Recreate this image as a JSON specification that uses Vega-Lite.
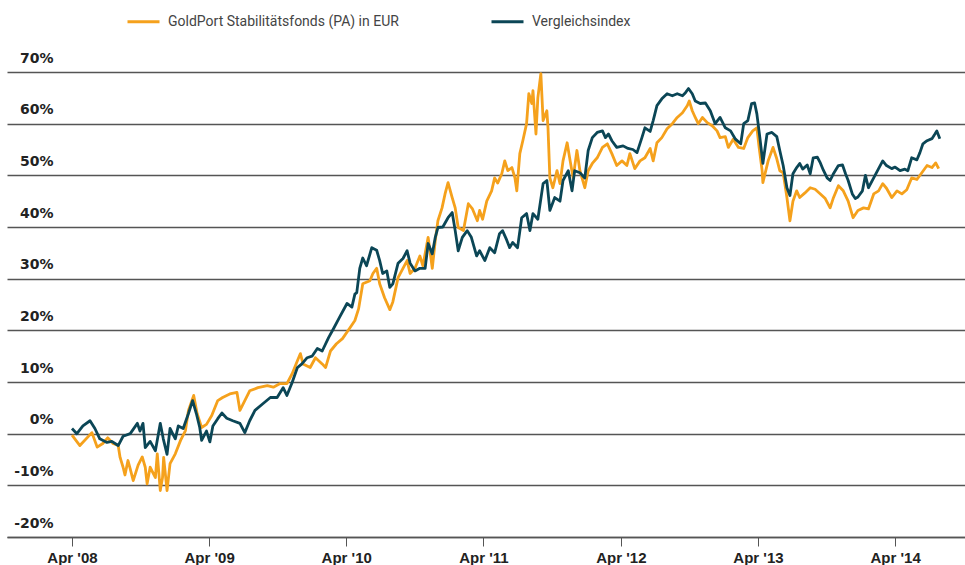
{
  "$schema": "https://vega.github.io/schema/vega-lite/v6.json",
  "width": 958,
  "height": 465,
  "autosize": {"type": "none"},
  "padding": {"left": 7, "top": 72, "right": 0, "bottom": 28},
  "background": "white",
  "config": {"view": {"stroke": null}, "font": "Liberation Sans"},
  "datasets": {
    "gold": [
      {"d":"2008-04-01","v":-0.3},{"d":"2008-04-22","v":-2.3},{"d":"2008-05-24","v":0.2},{"d":"2008-06-07","v":-2.6},{"d":"2008-06-22","v":-1.9},{"d":"2008-07-05","v":-0.8},{"d":"2008-07-19","v":-1.9},{"d":"2008-08-02","v":-2.3},{"d":"2008-08-07","v":-4.6},{"d":"2008-08-15","v":-6.5},{"d":"2008-08-20","v":-8.0},{"d":"2008-08-28","v":-5.2},{"d":"2008-09-03","v":-6.8},{"d":"2008-09-11","v":-9.1},{"d":"2008-09-24","v":-6.1},{"d":"2008-10-05","v":-4.5},{"d":"2008-10-13","v":-6.5},{"d":"2008-10-18","v":-9.7},{"d":"2008-10-26","v":-6.5},{"d":"2008-11-09","v":-8.5},{"d":"2008-11-14","v":-3.9},{"d":"2008-11-22","v":-11.0},{"d":"2008-11-28","v":-8.5},{"d":"2008-12-01","v":-4.6},{"d":"2008-12-10","v":-11.0},{"d":"2008-12-18","v":-5.8},
      {"d":"2009-01-01","v":-3.9},{"d":"2009-01-15","v":-1.3},{"d":"2009-01-28","v":0.6},{"d":"2009-02-05","v":4.5},{"d":"2009-02-19","v":7.4},{"d":"2009-02-28","v":3.9},{"d":"2009-03-12","v":1.2},{"d":"2009-03-25","v":1.8},{"d":"2009-04-08","v":3.5},{"d":"2009-04-24","v":6.4},{"d":"2009-05-07","v":7.0},{"d":"2009-05-26","v":7.7},{"d":"2009-06-14","v":8.0},{"d":"2009-06-22","v":4.5},{"d":"2009-07-05","v":6.4},{"d":"2009-07-18","v":8.3},{"d":"2009-08-09","v":8.9},{"d":"2009-09-03","v":9.3},{"d":"2009-09-19","v":9.0},{"d":"2009-10-07","v":9.7},{"d":"2009-10-25","v":9.7},{"d":"2009-11-08","v":11.6},{"d":"2009-11-22","v":14.1},{"d":"2009-11-30","v":15.5},{"d":"2009-12-07","v":13.5},{"d":"2009-12-26","v":12.8},
      {"d":"2010-01-09","v":14.7},{"d":"2010-01-27","v":13.5},{"d":"2010-02-05","v":12.8},{"d":"2010-02-18","v":16.0},{"d":"2010-03-06","v":17.4},{"d":"2010-03-22","v":18.4},{"d":"2010-04-11","v":20.5},{"d":"2010-04-24","v":21.9},{"d":"2010-05-04","v":24.2},{"d":"2010-05-15","v":29.0},{"d":"2010-06-03","v":29.6},{"d":"2010-06-11","v":31.0},{"d":"2010-06-21","v":32.0},{"d":"2010-06-29","v":29.0},{"d":"2010-07-12","v":26.3},{"d":"2010-07-26","v":24.0},{"d":"2010-08-03","v":25.5},{"d":"2010-08-17","v":30.2},{"d":"2010-08-30","v":32.0},{"d":"2010-09-10","v":33.5},{"d":"2010-09-18","v":31.0},{"d":"2010-10-01","v":32.0},{"d":"2010-10-14","v":34.4},{"d":"2010-10-22","v":32.5},{"d":"2010-11-05","v":38.0},{"d":"2010-11-16","v":32.0},{"d":"2010-11-24","v":37.4},{"d":"2010-12-01","v":41.2},{"d":"2010-12-12","v":43.7},{"d":"2010-12-20","v":46.4},{"d":"2010-12-28","v":48.6},
      {"d":"2011-01-08","v":45.7},{"d":"2011-01-16","v":43.7},{"d":"2011-01-24","v":39.9},{"d":"2011-02-07","v":39.3},{"d":"2011-02-20","v":44.5},{"d":"2011-03-03","v":43.5},{"d":"2011-03-16","v":41.2},{"d":"2011-03-22","v":43.2},{"d":"2011-03-30","v":41.5},{"d":"2011-04-10","v":45.0},{"d":"2011-04-23","v":47.0},{"d":"2011-05-01","v":49.5},{"d":"2011-05-09","v":48.5},{"d":"2011-05-20","v":50.3},{"d":"2011-05-28","v":52.8},{"d":"2011-06-05","v":50.9},{"d":"2011-06-16","v":51.5},{"d":"2011-06-24","v":49.5},{"d":"2011-06-29","v":47.0},{"d":"2011-07-07","v":54.2},{"d":"2011-07-15","v":56.7},{"d":"2011-07-25","v":60.0},{"d":"2011-07-31","v":65.8},{"d":"2011-08-08","v":63.9},{"d":"2011-08-11","v":66.4},{"d":"2011-08-19","v":58.0},{"d":"2011-08-24","v":65.0},{"d":"2011-09-01","v":69.7},{"d":"2011-09-07","v":60.6},{"d":"2011-09-17","v":62.5},{"d":"2011-09-20","v":59.2},{"d":"2011-09-25","v":49.5},{"d":"2011-10-03","v":47.6},{"d":"2011-10-14","v":50.9},{"d":"2011-10-22","v":48.4},{"d":"2011-10-30","v":52.8},{"d":"2011-11-10","v":56.3},{"d":"2011-11-18","v":52.8},{"d":"2011-11-26","v":49.5},{"d":"2011-12-06","v":54.8},{"d":"2011-12-14","v":50.9},{"d":"2011-12-27","v":47.6},
      {"d":"2012-01-05","v":50.9},{"d":"2012-01-16","v":52.3},{"d":"2012-01-29","v":53.4},{"d":"2012-02-12","v":55.4},{"d":"2012-02-25","v":56.1},{"d":"2012-03-08","v":54.2},{"d":"2012-03-21","v":51.9},{"d":"2012-04-04","v":52.8},{"d":"2012-04-17","v":51.9},{"d":"2012-04-25","v":54.2},{"d":"2012-05-08","v":51.3},{"d":"2012-05-22","v":52.8},{"d":"2012-06-04","v":53.4},{"d":"2012-06-18","v":55.2},{"d":"2012-06-26","v":52.8},{"d":"2012-07-06","v":56.3},{"d":"2012-07-19","v":57.3},{"d":"2012-08-02","v":59.0},{"d":"2012-08-16","v":60.0},{"d":"2012-08-29","v":61.2},{"d":"2012-09-12","v":62.1},{"d":"2012-09-25","v":63.5},{"d":"2012-09-30","v":64.4},{"d":"2012-10-08","v":62.5},{"d":"2012-10-16","v":61.2},{"d":"2012-10-24","v":60.0},{"d":"2012-11-04","v":61.2},{"d":"2012-11-17","v":60.2},{"d":"2012-11-30","v":59.6},{"d":"2012-12-13","v":58.6},{"d":"2012-12-21","v":57.3},
      {"d":"2013-01-04","v":57.5},{"d":"2013-01-12","v":55.4},{"d":"2013-01-25","v":57.0},{"d":"2013-02-08","v":55.4},{"d":"2013-02-22","v":55.2},{"d":"2013-03-05","v":57.3},{"d":"2013-03-18","v":58.6},{"d":"2013-03-29","v":59.2},{"d":"2013-04-04","v":55.4},{"d":"2013-04-12","v":50.9},{"d":"2013-04-14","v":48.6},{"d":"2013-04-28","v":52.8},{"d":"2013-05-11","v":55.4},{"d":"2013-05-21","v":53.2},{"d":"2013-05-29","v":50.9},{"d":"2013-06-07","v":50.5},{"d":"2013-06-17","v":45.7},{"d":"2013-06-25","v":41.2},{"d":"2013-07-03","v":45.0},{"d":"2013-07-13","v":47.0},{"d":"2013-07-21","v":45.7},{"d":"2013-08-04","v":46.6},{"d":"2013-08-18","v":47.6},{"d":"2013-08-31","v":47.3},{"d":"2013-09-14","v":46.4},{"d":"2013-09-27","v":45.5},{"d":"2013-10-10","v":43.7},{"d":"2013-10-18","v":45.5},{"d":"2013-11-01","v":48.0},{"d":"2013-11-14","v":47.0},{"d":"2013-11-27","v":45.0},{"d":"2013-12-10","v":41.8},{"d":"2013-12-23","v":43.2},
      {"d":"2014-01-07","v":43.7},{"d":"2014-01-20","v":43.5},{"d":"2014-02-03","v":46.4},{"d":"2014-02-16","v":47.0},{"d":"2014-02-27","v":48.4},{"d":"2014-03-09","v":47.5},{"d":"2014-03-23","v":45.7},{"d":"2014-04-06","v":47.0},{"d":"2014-04-19","v":46.4},{"d":"2014-05-02","v":47.2},{"d":"2014-05-15","v":49.5},{"d":"2014-05-29","v":49.2},{"d":"2014-06-11","v":50.5},{"d":"2014-06-25","v":51.9},{"d":"2014-07-08","v":51.5},{"d":"2014-07-18","v":52.4},{"d":"2014-07-26","v":51.3}
    ],
    "idx": [
      {"d":"2008-04-01","v":1.0},{"d":"2008-04-14","v":0.0},{"d":"2008-04-30","v":1.5},{"d":"2008-05-19","v":2.5},{"d":"2008-06-01","v":1.0},{"d":"2008-06-14","v":-1.0},{"d":"2008-07-03","v":-1.7},{"d":"2008-07-16","v":-1.5},{"d":"2008-08-02","v":-2.3},{"d":"2008-08-15","v":-0.5},{"d":"2008-09-03","v":0.0},{"d":"2008-09-22","v":2.0},{"d":"2008-09-29","v":0.5},{"d":"2008-10-07","v":2.0},{"d":"2008-10-13","v":-2.7},{"d":"2008-10-26","v":-1.5},{"d":"2008-11-09","v":-3.3},{"d":"2008-11-22","v":2.0},{"d":"2008-11-30","v":-1.0},{"d":"2008-12-10","v":-4.0},{"d":"2008-12-18","v":1.0},
      {"d":"2009-01-01","v":-1.0},{"d":"2009-01-09","v":1.5},{"d":"2009-01-22","v":1.0},{"d":"2009-02-05","v":3.9},{"d":"2009-02-16","v":6.4},{"d":"2009-02-26","v":3.9},{"d":"2009-03-07","v":1.2},{"d":"2009-03-12","v":-1.3},{"d":"2009-03-25","v":0.5},{"d":"2009-04-03","v":-1.6},{"d":"2009-04-11","v":1.5},{"d":"2009-04-24","v":2.9},{"d":"2009-05-05","v":4.0},{"d":"2009-05-18","v":3.0},{"d":"2009-06-03","v":2.5},{"d":"2009-06-22","v":2.0},{"d":"2009-07-05","v":0.2},{"d":"2009-07-18","v":2.5},{"d":"2009-08-01","v":4.5},{"d":"2009-08-22","v":5.8},{"d":"2009-09-11","v":7.0},{"d":"2009-09-29","v":7.0},{"d":"2009-10-15","v":8.9},{"d":"2009-10-25","v":7.4},{"d":"2009-11-08","v":9.9},{"d":"2009-11-22","v":12.8},{"d":"2009-12-04","v":13.5},{"d":"2009-12-18","v":14.7},{"d":"2009-12-31","v":15.0},
      {"d":"2010-01-14","v":16.5},{"d":"2010-01-27","v":16.0},{"d":"2010-02-13","v":18.6},{"d":"2010-02-26","v":20.3},{"d":"2010-03-14","v":22.5},{"d":"2010-04-03","v":25.2},{"d":"2010-04-16","v":24.5},{"d":"2010-04-24","v":27.0},{"d":"2010-04-29","v":27.3},{"d":"2010-05-07","v":32.0},{"d":"2010-05-15","v":34.0},{"d":"2010-05-25","v":32.5},{"d":"2010-06-08","v":36.0},{"d":"2010-06-21","v":35.5},{"d":"2010-06-29","v":33.5},{"d":"2010-07-07","v":31.0},{"d":"2010-07-18","v":31.5},{"d":"2010-07-26","v":28.3},{"d":"2010-08-03","v":29.0},{"d":"2010-08-17","v":33.0},{"d":"2010-08-30","v":33.9},{"d":"2010-09-10","v":35.4},{"d":"2010-09-18","v":33.0},{"d":"2010-10-01","v":31.5},{"d":"2010-10-14","v":32.0},{"d":"2010-10-28","v":32.0},{"d":"2010-11-05","v":36.8},{"d":"2010-11-16","v":34.8},{"d":"2010-11-24","v":38.0},{"d":"2010-12-01","v":39.9},{"d":"2010-12-14","v":40.0},{"d":"2010-12-28","v":41.8},
      {"d":"2011-01-08","v":42.8},{"d":"2011-01-16","v":39.3},{"d":"2011-01-24","v":35.4},{"d":"2011-02-04","v":38.0},{"d":"2011-02-17","v":39.3},{"d":"2011-02-28","v":38.0},{"d":"2011-03-14","v":34.4},{"d":"2011-03-22","v":35.4},{"d":"2011-04-05","v":33.5},{"d":"2011-04-18","v":36.0},{"d":"2011-05-01","v":35.0},{"d":"2011-05-14","v":38.7},{"d":"2011-05-22","v":39.3},{"d":"2011-06-02","v":37.5},{"d":"2011-06-10","v":36.0},{"d":"2011-06-18","v":37.0},{"d":"2011-07-01","v":36.0},{"d":"2011-07-12","v":41.8},{"d":"2011-07-25","v":42.6},{"d":"2011-08-03","v":39.3},{"d":"2011-08-11","v":42.6},{"d":"2011-08-24","v":41.5},{"d":"2011-09-07","v":48.4},{"d":"2011-09-17","v":49.0},{"d":"2011-09-25","v":43.2},{"d":"2011-10-08","v":45.7},{"d":"2011-10-22","v":45.0},{"d":"2011-10-30","v":49.0},{"d":"2011-11-13","v":50.9},{"d":"2011-11-23","v":47.0},{"d":"2011-11-30","v":50.9},{"d":"2011-12-14","v":50.5},{"d":"2011-12-27","v":49.5},
      {"d":"2012-01-05","v":54.8},{"d":"2012-01-16","v":57.3},{"d":"2012-01-29","v":58.3},{"d":"2012-02-12","v":58.6},{"d":"2012-02-20","v":57.3},{"d":"2012-02-28","v":58.0},{"d":"2012-03-08","v":56.7},{"d":"2012-03-21","v":55.4},{"d":"2012-04-07","v":55.7},{"d":"2012-04-20","v":55.2},{"d":"2012-05-03","v":55.0},{"d":"2012-05-14","v":54.4},{"d":"2012-05-27","v":57.3},{"d":"2012-06-04","v":59.2},{"d":"2012-06-18","v":58.5},{"d":"2012-06-26","v":60.6},{"d":"2012-07-06","v":63.5},{"d":"2012-07-19","v":64.8},{"d":"2012-08-02","v":65.8},{"d":"2012-08-16","v":65.4},{"d":"2012-08-29","v":65.8},{"d":"2012-09-12","v":65.4},{"d":"2012-09-20","v":66.0},{"d":"2012-09-28","v":66.8},{"d":"2012-10-08","v":65.8},{"d":"2012-10-16","v":64.4},{"d":"2012-10-29","v":63.9},{"d":"2012-11-12","v":64.0},{"d":"2012-11-25","v":62.5},{"d":"2012-12-08","v":60.0},{"d":"2012-12-21","v":61.2},
      {"d":"2013-01-04","v":59.2},{"d":"2013-01-18","v":58.6},{"d":"2013-01-31","v":57.0},{"d":"2013-02-14","v":56.1},{"d":"2013-02-22","v":60.0},{"d":"2013-03-05","v":60.6},{"d":"2013-03-15","v":63.9},{"d":"2013-03-23","v":64.0},{"d":"2013-03-29","v":61.9},{"d":"2013-04-06","v":57.3},{"d":"2013-04-14","v":52.3},{"d":"2013-04-25","v":58.0},{"d":"2013-05-08","v":58.3},{"d":"2013-05-21","v":57.5},{"d":"2013-05-29","v":54.8},{"d":"2013-06-07","v":51.9},{"d":"2013-06-17","v":47.6},{"d":"2013-06-25","v":46.1},{"d":"2013-07-03","v":50.3},{"d":"2013-07-13","v":51.5},{"d":"2013-07-21","v":52.3},{"d":"2013-07-29","v":51.2},{"d":"2013-08-10","v":52.0},{"d":"2013-08-18","v":50.3},{"d":"2013-08-26","v":53.4},{"d":"2013-09-06","v":53.5},{"d":"2013-09-14","v":52.4},{"d":"2013-09-22","v":51.0},{"d":"2013-10-02","v":49.5},{"d":"2013-10-10","v":49.0},{"d":"2013-10-18","v":50.2},{"d":"2013-11-01","v":51.9},{"d":"2013-11-12","v":52.0},{"d":"2013-11-20","v":50.3},{"d":"2013-11-27","v":49.0},{"d":"2013-12-08","v":46.4},{"d":"2013-12-16","v":45.5},{"d":"2013-12-23","v":45.8},
      {"d":"2014-01-04","v":47.0},{"d":"2014-01-12","v":50.0},{"d":"2014-01-20","v":47.6},{"d":"2014-02-03","v":49.5},{"d":"2014-02-16","v":51.3},{"d":"2014-02-27","v":52.8},{"d":"2014-03-09","v":51.9},{"d":"2014-03-23","v":51.3},{"d":"2014-04-01","v":51.6},{"d":"2014-04-14","v":50.9},{"d":"2014-04-27","v":51.2},{"d":"2014-05-05","v":50.9},{"d":"2014-05-15","v":53.4},{"d":"2014-05-29","v":53.0},{"d":"2014-06-06","v":54.4},{"d":"2014-06-14","v":56.1},{"d":"2014-06-25","v":56.7},{"d":"2014-07-08","v":57.1},{"d":"2014-07-16","v":58.0},{"d":"2014-07-21","v":58.6},{"d":"2014-07-29","v":57.1}
    ]
  },
  "encoding": {
    "x": {
      "field": "d",
      "type": "temporal",
      "scale": {"type": "utc", "domain": [{"year": 2007, "month": 10, "date": 11, "utc": true}, {"year": 2014, "month": 10, "date": 4, "utc": true}]},
      "axis": {
        "title": null,
        "values": [
          {"year": 2008, "month": 4, "date": 1, "utc": true},
          {"year": 2009, "month": 4, "date": 1, "utc": true},
          {"year": 2010, "month": 4, "date": 1, "utc": true},
          {"year": 2011, "month": 4, "date": 1, "utc": true},
          {"year": 2012, "month": 4, "date": 1, "utc": true},
          {"year": 2013, "month": 4, "date": 1, "utc": true},
          {"year": 2014, "month": 4, "date": 1, "utc": true}
        ],
        "format": "%b '%y",
        "grid": false,
        "domainColor": "#555555",
        "domainWidth": 1.3,
        "tickColor": "#555555",
        "tickSize": 9,
        "tickWidth": 1,
        "labelFont": "Liberation Sans",
        "labelFontWeight": "bold",
        "labelFontSize": 15,
        "labelColor": "#222222",
        "labelPadding": 4,
        "labelFlush": false
      }
    },
    "y": {
      "field": "v",
      "type": "quantitative",
      "scale": {"domain": [-20, 70], "nice": false, "zero": false},
      "axis": {
        "title": null,
        "values": [-20, -10, 0, 10, 20, 30, 40, 50, 60, 70],
        "labelExpr": "datum.value + '%'",
        "grid": true,
        "gridColor": "#555555",
        "gridWidth": 1.3,
        "domain": false,
        "ticks": false,
        "tickSize": 0,
        "labelAlign": "right",
        "labelBaseline": "alphabetic",
        "labelPadding": -46,
        "labelOffset": -10,
        "labelFont": "DejaVu Sans",
        "labelFontWeight": "bold",
        "labelFontSize": 14,
        "labelColor": "#222222",
        "labelFlush": false
      }
    }
  },
  "layer": [
    {
      "data": {"name": "gold"},
      "mark": {"type": "line", "strokeWidth": 2.8, "strokeJoin": "round"},
      "encoding": {
        "color": {
          "datum": "GoldPort Stabilitätsfonds (PA) in EUR",
          "type": "nominal",
          "scale": {"domain": ["GoldPort Stabilitätsfonds (PA) in EUR", "Vergleichsindex"], "range": ["#F5A11C", "#0B4656"]},
          "legend": {
            "orient": "none",
            "legendX": 119,
            "legendY": -68,
            "direction": "horizontal",
            "title": null,
            "symbolType": "stroke",
            "symbolSize": 1024,
            "symbolStrokeWidth": 3,
            "labelFont": "Roboto",
            "labelFontSize": 14,
            "labelColor": "#444444",
            "labelLimit": 400,
            "labelOffset": 7,
            "columnPadding": 86
          }
        }
      }
    },
    {
      "data": {"name": "idx"},
      "mark": {"type": "line", "strokeWidth": 2.8, "strokeJoin": "round"},
      "encoding": {
        "color": {"datum": "Vergleichsindex", "type": "nominal"}
      }
    }
  ]
}
